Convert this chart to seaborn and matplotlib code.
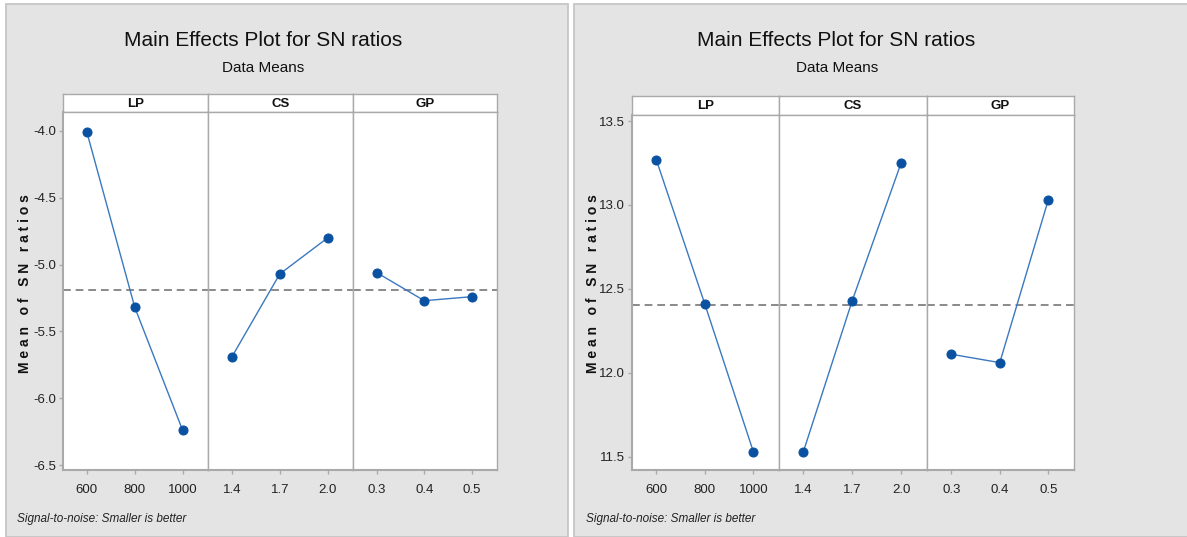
import matplotlib
matplotlib.use("Agg")
import matplotlib.pyplot as plt
import seaborn as sns
from matplotlib.patches import Rectangle

# ---------------- data ----------------
factors = ["LP", "CS", "GP"]
level_labels = [["600", "800", "1000"], ["1.4", "1.7", "2.0"], ["0.3", "0.4", "0.5"]]

left_LP = [-4.01, -5.32, -6.24]
left_CS = [-5.69, -5.07, -4.80]
left_GP = [-5.06, -5.27, -5.24]

right_LP = [13.27, 12.41, 11.53]
right_CS = [11.53, 12.43, 13.25]
right_GP = [12.11, 12.06, 13.03]

left_yticks = [-4.0, -4.5, -5.0, -5.5, -6.0, -6.5]
right_yticks = [13.5, 13.0, 12.5, 12.0, 11.5]

title = "Main Effects Plot for SN ratios"
subtitle = "Data Means"
ylabel = "M e a n   o f   S N   r a t i o s"
footnote = "Signal-to-noise: Smaller is better"

# ---------------- style ----------------
sns.set_style("white")
FONT = ["Liberation Sans", "DejaVu Sans"]
plt.rcParams["font.family"] = FONT

W, H = 1187, 537
fig = plt.figure(figsize=(W / 100, H / 100), dpi=100)
fig.patch.set_facecolor("white")

BG = "#e4e4e4"
EDGE = "#c6c6c6"
SPINE = "#a9a9a9"
LINE_C = "#3a78c0"
MARK_C = "#0a52a1"


def fr(x0, y0, x1, y1):
    return [x0 / W, 1 - y1 / H, (x1 - x0) / W, (y1 - y0) / H]


def panel(bx0, bx1, fx, strip_y0, plot_y0, plot_y1, ylim, yticks, series,
          title_xy, sub_xy, ylab_xy, foot_xy):
    fig.add_artist(Rectangle((bx0 / W, 0), (bx1 - bx0) / W, 1 - 4 / H,
                             transform=fig.transFigure, facecolor=BG,
                             edgecolor=EDGE, lw=1.3, zorder=-5))
    mean = sum(series[0]) / len(series[0])
    for i in range(3):
        # strip
        sax = fig.add_axes(fr(fx[i], strip_y0, fx[i + 1], plot_y0))
        sax.set_facecolor("white")
        sax.set_xticks([]); sax.set_yticks([])
        for sp in sax.spines.values():
            sp.set_color(SPINE); sp.set_linewidth(1.0)
        sax.text(0.5, 0.45, factors[i], ha="center", va="center",
                 fontsize=9.5, fontweight="bold", transform=sax.transAxes,
                 color="#111111")
        # plot
        ax = fig.add_axes(fr(fx[i], plot_y0, fx[i + 1], plot_y1))
        ax.set_facecolor("white")
        sns.lineplot(x=[0, 1, 2], y=series[i], ax=ax, color=LINE_C, lw=1.0,
                     marker="o", markersize=6.5, markerfacecolor=MARK_C,
                     markeredgecolor=MARK_C, zorder=3)
        ax.axhline(mean, color="#8a8a8a", lw=1.4, ls=(0, (4, 2.5)), zorder=2)
        ax.set_xlim(-0.5, 2.53)
        ax.set_ylim(*ylim)
        ax.set_xticks([0, 1, 2])
        ax.set_xticklabels(level_labels[i], fontsize=9.5, color="#222222")
        if i == 0:
            ax.set_yticks(yticks)
            ax.set_yticklabels([f"{t:.1f}" for t in yticks], fontsize=9.5,
                               color="#222222")
        else:
            ax.set_yticks([])
        ax.tick_params(axis="both", length=3, width=1, color=SPINE,
                       direction="out", pad=2, left=(i == 0), bottom=True)
        ax.tick_params(axis="x", pad=7)
        ax.set_xlabel(""); ax.set_ylabel("")
        for sp in ax.spines.values():
            sp.set_color(SPINE); sp.set_linewidth(1.0)
        ax.spines["bottom"].set_linewidth(1.5)
        if i == 0:
            ax.spines["left"].set_linewidth(1.5)
    fig.text(title_xy[0] / W, 1 - title_xy[1] / H, title, ha="center",
             va="center", fontsize=15, color="#111111")
    fig.text(sub_xy[0] / W, 1 - sub_xy[1] / H, subtitle, ha="center",
             va="center", fontsize=11, color="#111111")
    fig.text(ylab_xy[0] / W, 1 - ylab_xy[1] / H, ylabel, ha="center",
             va="center", rotation=90, fontsize=10, fontweight="bold",
             color="#111111")
    fig.text(foot_xy[0] / W, 1 - foot_xy[1] / H, footnote, ha="left",
             va="center", fontsize=8.5, style="italic", color="#222222")


panel(6, 568, [63, 208, 353, 497], 94, 112, 470, (-6.537, -3.858), left_yticks,
      [left_LP, left_CS, left_GP], (263, 40), (263, 68), (25, 284), (17, 519))
panel(574, 1195, [632, 779, 927, 1074], 96, 115, 470, (11.42, 13.536),
      right_yticks, [right_LP, right_CS, right_GP], (836, 40), (837, 68),
      (593, 284), (586, 519))

fig.savefig("out.png", dpi=100)
